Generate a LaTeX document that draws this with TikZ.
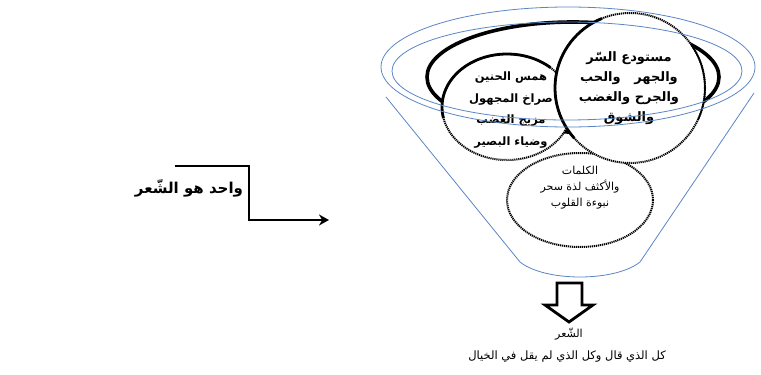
\documentclass[tikz,border=0pt]{standalone}
\usepackage{fontspec}
\newfontfamily\arabicfont[Script=Arabic]{DejaVu Sans}
\TeXXeTstate=1
\usetikzlibrary{arrows.meta}
\definecolor{funnelblue}{HTML}{5B86C5}
\tikzset{
  funnelline/.style={draw=funnelblue, line width=0.8pt},
  dotborder/.style={draw=black, line width=2pt, dash pattern=on 1.2pt off 0.8pt, fill=white},
  thickarc/.style={draw=black, line width=2.8pt},
  solidarc/.style={draw=black, line width=1.6pt},
  circtext/.style={font=\arabicfont\bfseries\fontsize{13}{20}\selectfont, align=center, inner sep=0pt},
  smalltext/.style={font=\arabicfont\fontsize{11}{16}\selectfont, align=center, inner sep=0pt},
}
\begin{document}
\begin{tikzpicture}[x=1pt,y=-1pt]
\useasboundingbox[fill=white] (0,0) rectangle (761,375);
% centres
\coordinate (bigc) at (573,77);
\coordinate (botc) at (580,200);
\coordinate (leftc) at (507,107);
\coordinate (rightc) at (630,88);
\coordinate (func) at (568,67);
% thick black ellipse
\draw[line width=3.6pt] (bigc) ellipse [x radius=146pt, y radius=55pt];
% bottom circle
\draw[dotborder] (botc) ellipse [x radius=73pt, y radius=47pt];
% left circle
\draw[dotborder] (leftc) ellipse [x radius=65pt, y radius=53pt];
\draw[thickarc] (leftc) ++(48:65pt and 53pt) arc[start angle=48, end angle=192, x radius=65pt, y radius=53pt];
% right circle
\draw[dotborder] (rightc) circle [radius=75pt];
\draw[thickarc] (rightc) ++(112:75pt) arc[start angle=112, end angle=222, radius=75pt];
\draw[solidarc] (rightc) ++(35:75pt) arc[start angle=35, end angle=-25, radius=75pt];
% texts in circles
\node[circtext] (rtext) at (629,88) {\beginR مستودع السّر\endR\\\beginR والجهر \ \ والحب\endR\\\beginR والجرح والغضب\endR\\\beginR والشوق\endR};
\node[circtext, font=\arabicfont\bfseries\fontsize{11.5}{21.5}\selectfont] (ltext) at (511,110) {\beginR همس الحنين\endR\\\beginR صراخ المجهول\endR\\\beginR مزيج الغضب\endR\\\beginR وضياء البصير\endR};
\node[smalltext] (btext) at (580,188) {\beginR الكلمات\endR\\\beginR والأكثف لذة سحر\endR\\\beginR نبوءة القلوب\endR};
% funnel
\draw[funnelline] (func) ellipse [x radius=187pt, y radius=60pt];
\draw[funnelline] (567,71) ellipse [x radius=175pt, y radius=49pt];
\coordinate (fl) at (386,97);
\coordinate (fbl) at (520,262);
\coordinate (fbr) at (640,262);
\coordinate (fr) at (754,93);
\draw[funnelline] (fl) -- (fbl) .. controls (545,282) and (615,282) .. (fbr) -- (fr);
% block arrow
\draw[line width=2.8pt, line join=miter, fill=white] (557,283) -- (582,283) -- (582,305) -- (593,305) -- (569,322) -- (545,305) -- (557,305) -- cycle;
\node[smalltext, font=\arabicfont\fontsize{11}{12}\selectfont] (shir) at (569,334) {\beginR الشّعر\endR};
\node[smalltext, font=\arabicfont\fontsize{11.5}{14}\selectfont] (bottomline) at (567,357) {\beginR كل الذي قال وكل الذي لم يقل في الخيال\endR};
% left text and arrow
\node[font=\arabicfont\bfseries\fontsize{15}{16}\selectfont, inner sep=0pt] (one) at (189,188) {\beginR واحد هو الشّعر\endR};
\coordinate (a1) at (175,166);
\coordinate (a2) at (249,166);
\coordinate (a3) at (249,220);
\coordinate (a4) at (329,220);
\draw[line width=2.4pt, -{Stealth[length=10pt, width=11pt]}] (a1) -- (a2) -- (a3) -- (a4);
\end{tikzpicture}
\end{document}
